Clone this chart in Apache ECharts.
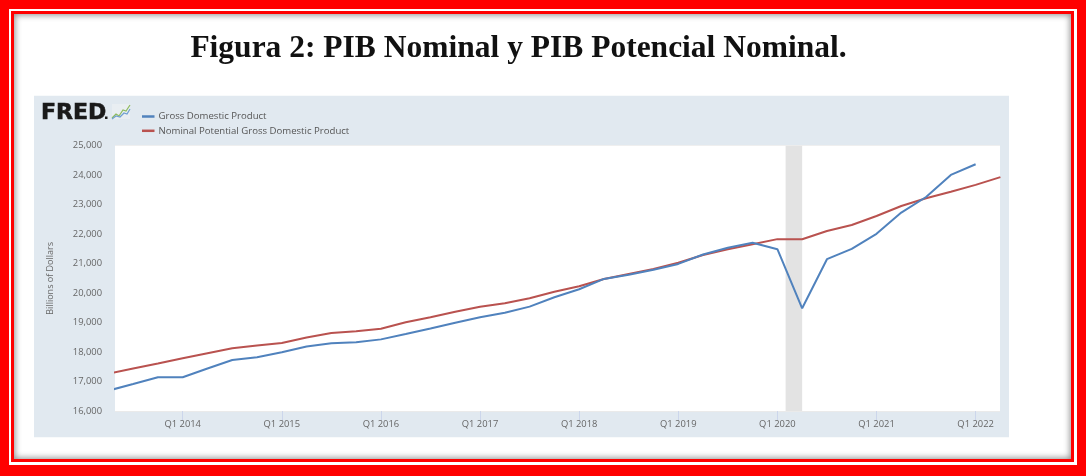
<!DOCTYPE html>
<html>
<head>
<meta charset="utf-8">
<script src="https://cdn.jsdelivr.net/npm/echarts@6/dist/echarts.min.js"></script>
<style>
  html, body { margin: 0; padding: 0; width: 1086px; height: 476px; overflow: hidden; background: #fff; }
  #frame { position: absolute; left: 0; top: 0; width: 1086px; height: 476px; box-sizing: border-box;
           border-style: solid; border-color: #ff0000; border-width: 9px 9px 11px 9px; background: #fff; }
  #frame2 { position: absolute; left: 0; top: 0; right: 0; bottom: 0; box-sizing: border-box;
            border-style: solid; border-color: #fff; border-width: 2px 3px 3px 2px; }
  #frame3 { position: absolute; left: 0; top: 0; right: 0; bottom: 0; box-sizing: border-box;
            border: 3px solid #ff0000; box-shadow: inset 0 0 6px 1px rgba(0,0,0,0.45); background: #fff; }
  #chart { position: absolute; left: 0; top: 0; width: 1086px; height: 476px; }
</style>
</head>
<body>
<div id="frame"><div id="frame2"><div id="frame3"></div></div></div>
<div id="chart"></div>
<script>
// ---- data ----
const quarters = [
  '2013 Q2','2013 Q3','2013 Q4',
  '2014 Q1','2014 Q2','2014 Q3','2014 Q4',
  '2015 Q1','2015 Q2','2015 Q3','2015 Q4',
  '2016 Q1','2016 Q2','2016 Q3','2016 Q4',
  '2017 Q1','2017 Q2','2017 Q3','2017 Q4',
  '2018 Q1','2018 Q2','2018 Q3','2018 Q4',
  '2019 Q1','2019 Q2','2019 Q3','2019 Q4',
  '2020 Q1','2020 Q2','2020 Q3','2020 Q4',
  '2021 Q1','2021 Q2','2021 Q3','2021 Q4',
  '2022 Q1','2022 Q2'
];
const gdp = [
  16690, 16915, 17145,
  17145, 17440, 17730, 17825,
  17990, 18190, 18300, 18330,
  18430, 18610, 18800, 18995,
  19180, 19335, 19540, 19860,
  20130, 20480, 20620, 20790,
  20990, 21310, 21540, 21710,
  21490, 19485, 21150, 21500,
  22010, 22730, 23260, 24010,
  24370, null
];
const potential = [
  17265, 17440, 17610,
  17790, 17960, 18130, 18220,
  18310, 18495, 18645, 18705,
  18790, 19010, 19180, 19370,
  19540, 19655, 19825, 20045,
  20230, 20480, 20650, 20820,
  21030, 21290, 21485, 21655,
  21830, 21825, 22105, 22310,
  22615, 22955, 23215, 23440,
  23670, 23935
];
const xTickYears = [2014, 2015, 2016, 2017, 2018, 2019, 2020, 2021, 2022];
const xStart = 2013.317, xEnd = 2022.246;
const yMin = 16000, yMax = 25000, yStep = 1000;
const recessionStart = 2020.083, recessionEnd = 2020.25;
const seriesNames = ['Gross Domestic Product', 'Nominal Potential Gross Domestic Product'];
const titleText = 'Figura 2: PIB Nominal y PIB Potencial Nominal.';
const yAxisTitle = 'Billions of Dollars';

// ---- build ----
function qToX(s) { const p = s.split(' Q'); return (+p[0]) + (+p[1] - 1) * 0.25; }
const gdpData = quarters.map((q, i) => [qToX(q), gdp[i]]).filter(d => d[1] != null);
const potData = quarters.map((q, i) => [qToX(q), potential[i]]);

const BLUE = '#5082bd', RED = '#b9524f';
const FONT = '"Open Sans", sans-serif';
const chart = echarts.init(document.getElementById('chart'), null, { renderer: 'canvas' });
chart.setOption({
  animation: false,
  backgroundColor: 'transparent',
  graphic: [
    { type: 'rect', z: -10, shape: { x: 34, y: 95.7, width: 975, height: 341.6 }, style: { fill: '#e1e9f0' } },
    { type: 'text', z: 5, style: { text: titleText, x: 518.5, y: 48.5, align: 'center', verticalAlign: 'middle',
        font: 'bold 31.5px "Liberation Serif", serif', fill: '#111' } },
    { type: 'text', z: 5, style: { text: 'FRED', x: 41, y: 113, align: 'left', verticalAlign: 'middle',
        font: '900 22px "DejaVu Sans", sans-serif', fill: '#1a1a1a', stroke: '#1a1a1a', lineWidth: 0.6 } },
    { type: 'rect', z: 5, shape: { x: 105, y: 116.5, width: 2.5, height: 2.5 }, style: { fill: '#1a1a1a' } },
    { type: 'rect', z: 5, shape: { x: 112, y: 104, width: 18, height: 15 }, style: { fill: '#e9eef2' } },
    { type: 'polyline', z: 6, shape: { points: [[112, 118], [116, 114], [119, 116], [123, 110], [126, 111], [130, 105]] },
      style: { stroke: '#8dbb5e', lineWidth: 1.2, fill: null } },
    { type: 'polyline', z: 6, shape: { points: [[112, 119], [116, 116], [120, 117], [124, 113], [127, 114], [130, 109]] },
      style: { stroke: '#6f9fd0', lineWidth: 1.2, fill: null } }
  ],
  legend: {
    orient: 'vertical', left: 137, top: 105.5,
    icon: 'rect', itemWidth: 12.5, itemHeight: 2.5, itemGap: 2.3,
    textStyle: { fontFamily: FONT, fontSize: 9.6, color: '#555', lineHeight: 12, padding: [0, 0, 0, -1] },
    data: seriesNames
  },
  grid: { left: 115, right: 86, top: 145.7, bottom: 65, show: true, backgroundColor: '#ffffff', borderWidth: 0, z: 1 },
  xAxis: {
    type: 'value', min: xStart, max: xEnd,
    axisLine: { show: false },
    axisTick: { show: true, customValues: xTickYears, length: 9, lineStyle: { color: '#ccd6eb' } },
    axisLabel: { customValues: xTickYears, formatter: v => 'Q1 ' + Math.round(v), fontFamily: FONT, fontSize: 9.4, color: '#666', margin: 9 },
    splitLine: { show: false }
  },
  yAxis: {
    type: 'value', min: yMin, max: yMax, interval: yStep,
    name: yAxisTitle, nameLocation: 'middle', nameGap: 60, nameRotate: 90,
    nameTextStyle: { fontFamily: FONT, fontSize: 9, color: '#666' },
    axisLine: { show: false }, axisTick: { show: false },
    axisLabel: { formatter: v => v.toLocaleString('en-US'), fontFamily: FONT, fontSize: 9.4, color: '#666', margin: 13 },
    splitLine: { lineStyle: { color: '#eaeaea', width: 1 } }
  },
  series: [
    { name: seriesNames[0], type: 'line', data: gdpData, showSymbol: false, z: 3,
      lineStyle: { color: BLUE, width: 2 }, itemStyle: { color: BLUE },
      markArea: { silent: true, itemStyle: { color: '#e3e3e3' },
        data: [[{ xAxis: recessionStart }, { xAxis: recessionEnd }]] } },
    { name: seriesNames[1], type: 'line', data: potData, showSymbol: false, z: 2,
      lineStyle: { color: RED, width: 2 }, itemStyle: { color: RED } }
  ]
});
</script>
</body>
</html>
